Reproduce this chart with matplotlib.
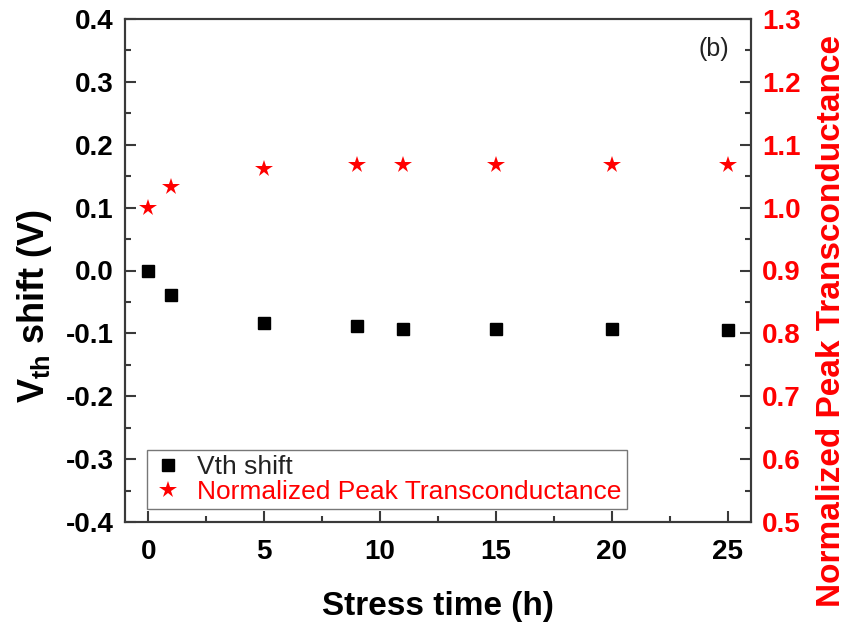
import matplotlib
matplotlib.use("Agg")
import matplotlib.pyplot as plt
from matplotlib.ticker import MultipleLocator

plt.rcParams['font.family'] = ['Liberation Sans', 'DejaVu Sans']
plt.rcParams['mathtext.fontset'] = 'custom'
plt.rcParams['mathtext.rm'] = 'Liberation Sans'
plt.rcParams['mathtext.bf'] = 'Liberation Sans:bold'

# Stress time (h)
stress_time = [0, 1, 5, 9, 11, 15, 20, 25]
# Threshold voltage shift (V)
vth_shift = [0.0, -0.039, -0.083, -0.089, -0.0925, -0.093, -0.0935, -0.0945]
# Normalized peak transconductance
norm_gm = [1.0, 1.033, 1.061, 1.068, 1.068, 1.068, 1.068, 1.068]

spine_col = '#3a3a3a'

fig = plt.figure(figsize=(8.48, 6.26), dpi=100)
ax = fig.add_axes([125 / 848, 1 - 522 / 626, (751 - 125) / 848, (522 - 19) / 626])
ax2 = ax.twinx()

h1, = ax.plot(stress_time, vth_shift, linestyle='none', marker='s', markersize=9,
              color='black', label='Vth shift')
h2, = ax2.plot(stress_time, norm_gm, linestyle='none', marker='*', markersize=13,
               color='red', markeredgewidth=0, label='Normalized Peak Transconductance')

ax.set_xlim(-1, 26)
ax.set_ylim(-0.4, 0.4)
ax2.set_ylim(0.5, 1.3)

ax.xaxis.set_major_locator(MultipleLocator(5))
ax.xaxis.set_minor_locator(MultipleLocator(2.5))
ax.yaxis.set_major_locator(MultipleLocator(0.1))
ax.yaxis.set_minor_locator(MultipleLocator(0.05))
ax2.yaxis.set_major_locator(MultipleLocator(0.1))
ax2.yaxis.set_minor_locator(MultipleLocator(0.05))

ax.yaxis.set_major_formatter(plt.FuncFormatter(lambda v, p: f"{v:.1f}"))
ax2.yaxis.set_major_formatter(plt.FuncFormatter(lambda v, p: f"{v:.1f}"))

for a in (ax, ax2):
    for s in a.spines.values():
        s.set_color(spine_col)
        s.set_linewidth(1.5)

ax.tick_params(axis='both', which='major', direction='in', length=8, width=1.5,
               color=spine_col, labelsize=20)
ax.tick_params(axis='both', which='minor', direction='in', length=4, width=1.5,
               color=spine_col)
ax.tick_params(axis='x', which='major', pad=12)
ax.tick_params(axis='y', which='major', pad=8)
ax.tick_params(axis='y', which='both', right=False)
ax.tick_params(axis='x', which='both', top=False)
ax2.tick_params(axis='y', which='major', direction='in', length=8, width=1.5,
                color=spine_col, labelsize=20, labelcolor='red', pad=8)
ax2.tick_params(axis='y', which='minor', direction='in', length=4, width=1.5,
                color=spine_col)

for lbl in ax.get_xticklabels() + ax.get_yticklabels() + ax2.get_yticklabels():
    lbl.set_fontweight('bold')

ax.set_xlabel('Stress time (h)', fontsize=24, fontweight='bold', labelpad=19)
ax.set_ylabel('V$_{\\mathbf{th}}$ shift (V)', fontsize=26, fontweight='bold',
              va='center', ha='center')
ax.yaxis.set_label_coords(-0.144, 0.43)
ax2.set_ylabel('Normalized Peak Transconductance', fontsize=24, fontweight='bold',
               color='red', va='center', ha='center')
ax2.yaxis.set_label_coords(1.129, 0.40)

ax.text(0.965, 0.964, '(b)', transform=ax.transAxes, ha='right', va='top',
        fontsize=18, color='#222222')

leg = ax.legend(handles=[h1, h2], loc='lower left', bbox_to_anchor=(0.035, 0.025),
                fontsize=19, frameon=True, fancybox=False, borderpad=0.2,
                handletextpad=0.5, handlelength=1.2, labelspacing=0.05,
                borderaxespad=0.0)
leg.get_frame().set_edgecolor('#555555')
leg.get_frame().set_linewidth(1.0)
texts = leg.get_texts()
texts[0].set_color('#222222')
texts[1].set_color('red')

fig.savefig('out.png', dpi=100)
